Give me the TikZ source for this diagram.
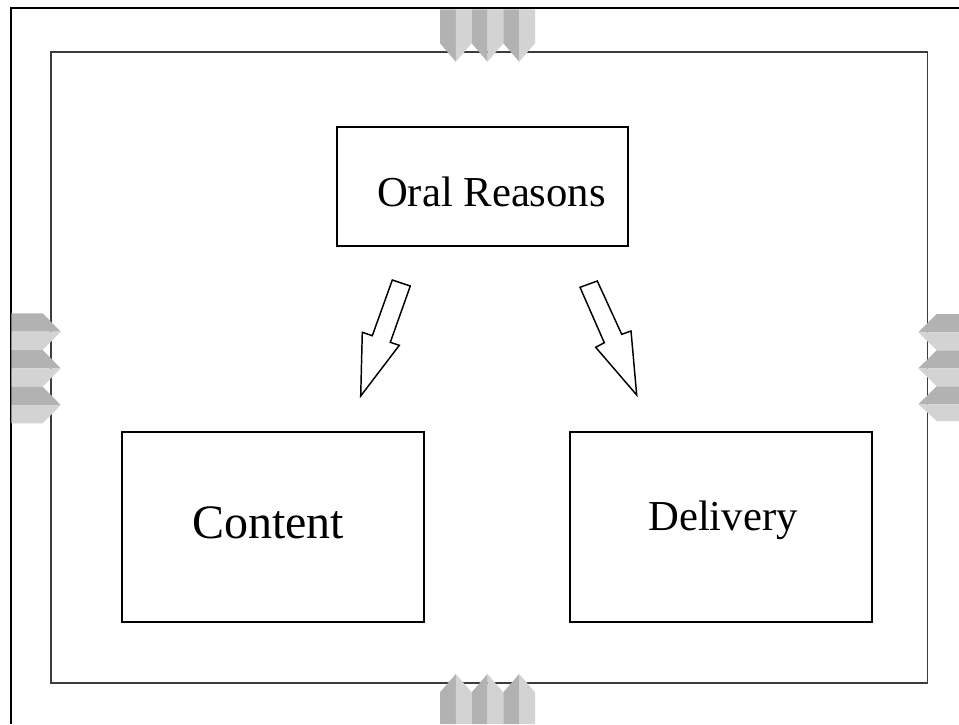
\documentclass[tikz,border=0pt]{standalone}
\usepackage{fontspec}
\setmainfont{Liberation Serif}
\definecolor{chevdark}{RGB}{178,178,178}
\definecolor{chevlight}{RGB}{211,211,211}
\definecolor{framegray}{RGB}{60,60,60}
\tikzset{
  boxst/.style={draw=black, line width=1.1pt, fill=white, inner sep=0pt},
  lblbig/.style={anchor=base, inner sep=0pt, font=\fontsize{32}{38}\selectfont},
  lblhuge/.style={anchor=base, inner sep=0pt, font=\fontsize{36}{43}\selectfont},
  hollow/.style={draw=black, line width=1.1pt, fill=white, line join=miter},
  darkpart/.style={fill=chevdark, draw=none},
  lightpart/.style={fill=chevlight, draw=none}
}
\begin{document}
\begin{tikzpicture}[x=0.75pt,y=-0.75pt]
\useasboundingbox (0,0) rectangle (959,724);
% inner frame
\draw[framegray, line width=1.2pt] (51,52) rectangle (927.5,683);
% outer frame lines (left and top)
\draw[black, line width=1.5pt] (10.5,724) -- (10.5,8.3) -- (959,8.3);
% top chevrons
\foreach \xl/\xc/\xr in {440/455.8/471.7, 471.7/487.5/503.3, 503.3/519.2/535}{
  \fill[chevdark] (\xl,9.3) -- (\xc,9.3) -- (\xc,61.7) -- (\xl,43.3) -- cycle;
  \fill[chevlight] (\xc,9.3) -- (\xr,9.3) -- (\xr,43.3) -- (\xc,61.7) -- cycle;
}
% bottom chevrons
\foreach \xl/\xc/\xr in {440/455.8/471.7, 471.7/487.5/503.3, 503.3/519.2/535}{
  \fill[chevdark] (\xl,724) -- (\xl,692.3) -- (\xc,674) -- (\xc,724) -- cycle;
  \fill[chevlight] (\xc,724) -- (\xc,674) -- (\xr,692.3) -- (\xr,724) -- cycle;
}
% left chevrons
\foreach \yt/\ym/\yb in {313.3/331.7/350, 350/368.3/386.7, 386.7/405/423.3}{
  \fill[chevdark] (11.3,\yt) -- (42.7,\yt) -- (60.7,\ym) -- (11.3,\ym) -- cycle;
  \fill[chevlight] (11.3,\ym) -- (60.7,\ym) -- (42.7,\yb) -- (11.3,\yb) -- cycle;
}
% right chevrons
\foreach \yt/\ym/\yb in {314/332.3/350.3, 350.3/368.3/386.3, 386.3/404.3/421}{
  \fill[chevdark] (959,\yt) -- (936.7,\yt) -- (918.3,\ym) -- (959,\ym) -- cycle;
  \fill[chevlight] (959,\ym) -- (918.3,\ym) -- (936.7,\yb) -- (959,\yb) -- cycle;
}
% boxes
\node[boxst, minimum width=218.25pt, minimum height=89.25pt] (oral) at (482.5,186.5) {};
\node[boxst, minimum width=226.5pt, minimum height=142.5pt] (content) at (273,527) {};
\node[boxst, minimum width=226.5pt, minimum height=142.5pt] (delivery) at (721,527) {};
% labels
\node[lblbig] (oraltext) at (491.5,206) {Oral Reasons};
\node[lblhuge] (contenttext) at (268,538) {Content};
\node[lblbig] (deliverytext) at (723,530) {Delivery};
% hollow block arrows
\draw[hollow] (392.3,280) -- (410.3,286) -- (390.3,342.3) -- (399.3,345.3)
  -- (360.7,396) -- (362.3,332.3) -- (372.3,335.7) -- cycle;
\draw[hollow] (580,287.3) -- (597.3,281) -- (621.7,334.3) -- (631,331)
  -- (636.7,395) -- (595.7,347.3) -- (604.3,342.7) -- cycle;
\end{tikzpicture}
\end{document}
